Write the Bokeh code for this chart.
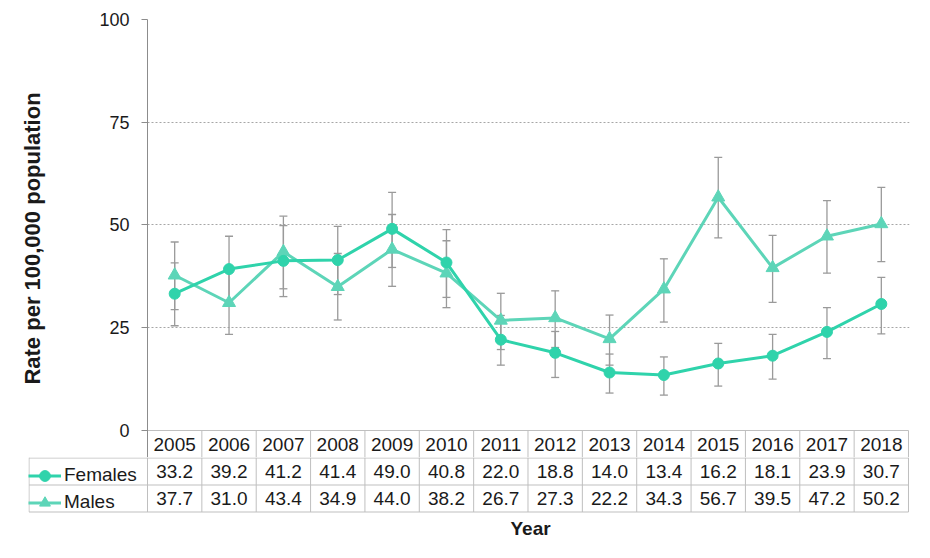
from bokeh.plotting import figure
from bokeh.models import (Range1d, FixedTicker, ColumnDataSource, Whisker, TeeHead,
                          Legend, LegendItem, Title)
from bokeh.core.properties import value
from bokeh.embed import file_html
from bokeh.resources import INLINE

# ---------------- data ----------------
years = ["2005", "2006", "2007", "2008", "2009", "2010", "2011",
         "2012", "2013", "2014", "2015", "2016", "2017", "2018"]
females = [33.2, 39.2, 41.2, 41.4, 49.0, 40.8, 22.0, 18.8, 14.0, 13.4, 16.2, 18.1, 23.9, 30.7]
males = [37.7, 31.0, 43.4, 34.9, 44.0, 38.2, 26.7, 27.3, 22.2, 34.3, 56.7, 39.5, 47.2, 50.2]
females_lower = [25.4, 31.6, 32.5, 33.0, 39.6, 32.3, 15.8, 12.8, 9.0, 8.5, 10.7, 12.4, 17.4, 23.4]
females_upper = [40.7, 47.2, 49.8, 49.6, 57.9, 48.8, 27.9, 24.0, 18.5, 17.8, 21.1, 23.3, 29.8, 37.2]
males_lower = [29.3, 23.3, 34.4, 26.8, 35.0, 29.8, 19.6, 20.1, 15.8, 26.3, 46.8, 31.1, 38.2, 41.0]
males_upper = [45.8, 39.3, 52.1, 43.0, 52.5, 46.1, 33.3, 33.9, 28.0, 41.7, 66.4, 47.4, 55.9, 59.1]
y_ticks = [0, 25, 50, 75, 100]
series_names = ["Females", "Males"]
y_title = "Rate per 100,000 population"
x_title = "Year"

# ---------------- style / layout ----------------
FONT = "Liberation Sans"
FEMALE = "#2fd3ab"
MALE = "#5dd5b8"
ERR = "#9a9a9a"
TABLE_LINE = "#bfbfbf"
TEXT = "#1a1a1a"

W = 925
COL_PX = 54.357            # pixel width of one year column
LEFT = 147                 # x of y axis
RIGHT_BORDER = 16
TOP = 19                   # y of value 100
ZERO = 429.5               # y of value 0
HEAD_TOP, HEAD_BOT = 430, 457
ROW_H = 27
TBL_TOP = HEAD_BOT + 0.5
TBL_BOT = TBL_TOP + 2 * ROW_H
FRAME2_BOT = 513
TBL_LEFT = 28

n = len(years)
xs = list(range(n))
frame_w = W - LEFT - RIGHT_BORDER
x_end = -0.5 + frame_w / COL_PX
px_per_unit = (ZERO - TOP) / 100.0
vx = [k + 0.5 for k in range(n)]

# ================= chart (with header row) =================
p = figure(width=W, height=HEAD_BOT, output_backend="svg", toolbar_location=None,
           x_range=Range1d(-0.5, x_end),
           y_range=Range1d(-(HEAD_BOT - ZERO) / px_per_unit, 100),
           x_axis_location=None,
           min_border_left=LEFT, min_border_right=RIGHT_BORDER,
           min_border_top=TOP, min_border_bottom=0)
p.outline_line_color = None
p.extra_y_ranges = {"tbl": Range1d(start=HEAD_BOT, end=TOP)}

p.xgrid.visible = False
p.ygrid.ticker = FixedTicker(ticks=y_ticks[1:])
p.ygrid.grid_line_color = "#a6a6a6"
p.ygrid.grid_line_dash = "2 2"

p.yaxis.ticker = FixedTicker(ticks=y_ticks)
p.yaxis.axis_line_color = "#8c8c8c"
p.yaxis.major_tick_line_color = "#8c8c8c"
p.yaxis.major_tick_out = 6
p.yaxis.major_tick_in = 0
p.yaxis.minor_tick_line_color = None
p.yaxis.major_label_text_font = FONT
p.yaxis.major_label_text_font_size = "18px"
p.yaxis.major_label_text_color = TEXT
p.yaxis.major_label_standoff = 12
p.yaxis.axis_label = y_title
p.yaxis.axis_label_text_font = FONT
p.yaxis.axis_label_text_font_size = "22px"
p.yaxis.axis_label_text_font_style = "bold"
p.yaxis.axis_label_text_color = TEXT
p.yaxis.axis_label_standoff = 51

fsrc = ColumnDataSource(dict(x=xs, lower=females_lower, upper=females_upper))
msrc = ColumnDataSource(dict(x=xs, lower=males_lower, upper=males_upper))
for src in (msrc, fsrc):
    p.add_layout(Whisker(source=src, base="x", lower="lower", upper="upper",
                         dimension="height", line_color=ERR, line_width=1.3,
                         level="underlay",
                         upper_head=TeeHead(size=8, line_color=ERR, line_width=1.3),
                         lower_head=TeeHead(size=8, line_color=ERR, line_width=1.3)))

p.line(xs, males, line_color=MALE, line_width=3)
p.scatter(xs, males, marker="triangle", size=13, fill_color=MALE, line_color=MALE)
p.line(xs, females, line_color=FEMALE, line_width=3)
p.scatter(xs, females, marker="circle", size=11, fill_color=FEMALE, line_color=FEMALE)

# header row of the data table
p.segment(x0=[-0.5], x1=[n - 0.5], y0=[HEAD_TOP], y1=[HEAD_TOP], y_range_name="tbl",
          line_color=TABLE_LINE)
p.segment(x0=vx, x1=vx, y0=[HEAD_TOP] * n, y1=[HEAD_BOT] * n, y_range_name="tbl",
          line_color=TABLE_LINE)
p.text(x=xs, y=[(HEAD_TOP + HEAD_BOT) / 2] * n, text=years, y_range_name="tbl",
       text_align="center", text_baseline="middle",
       text_font=value(FONT), text_font_size="19px", text_color=TEXT)

# ================= data rows (separate root, own frame from the table's left edge) =================
x_start2 = -0.5 - (LEFT - TBL_LEFT) / COL_PX
q = figure(width=W, height=FRAME2_BOT - HEAD_BOT + 30, output_backend="svg",
           toolbar_location=None,
           x_range=Range1d(x_start2, x_end),
           y_range=Range1d(start=FRAME2_BOT, end=HEAD_BOT),
           x_axis_location=None, y_axis_location=None,
           min_border_left=TBL_LEFT, min_border_right=RIGHT_BORDER,
           min_border_top=0, min_border_bottom=30)
q.outline_line_color = None
q.grid.visible = False

edge_l = x_start2 + 0.5 / COL_PX
hy = [TBL_TOP, TBL_TOP + ROW_H, TBL_BOT]
q.segment(x0=[edge_l] * 3, x1=[n - 0.5] * 3, y0=hy, y1=hy, line_color=TABLE_LINE)
vx2 = [edge_l] + [k - 0.5 for k in range(n + 1)]
q.segment(x0=vx2, x1=vx2, y0=[HEAD_BOT] * len(vx2), y1=[TBL_BOT] * len(vx2),
          line_color=TABLE_LINE)

for k, vals in enumerate((females, males)):
    q.text(x=xs, y=[TBL_TOP + ROW_H * (k + 0.5)] * n, text=[f"{v:.1f}" for v in vals],
           text_align="center", text_baseline="middle",
           text_font=value(FONT), text_font_size="19px", text_color=TEXT)

# legend keys (renderers hidden, only their legend glyphs are shown)
fl = q.line(xs, females, line_color=FEMALE, line_width=3, visible=False)
fp = q.scatter(xs, females, marker="circle", size=11, fill_color=FEMALE,
               line_color=FEMALE, visible=False)
ml = q.line(xs, males, line_color=MALE, line_width=3, visible=False)
mp = q.scatter(xs, males, marker="triangle", size=13, fill_color=MALE,
               line_color=MALE, visible=False)
PAD = 4
leg_h = 2 * PAD + 2 * ROW_H
leg = Legend(items=[LegendItem(label=series_names[0], renderers=[fl, fp]),
                    LegendItem(label=series_names[1], renderers=[ml, mp])],
             location=(0, FRAME2_BOT - (TBL_TOP - PAD) - leg_h),
             orientation="vertical", padding=PAD, margin=0,
             spacing=0, glyph_width=33, glyph_height=ROW_H, label_height=ROW_H,
             label_standoff=3, label_text_font=FONT, label_text_font_size="19px",
             label_text_color=TEXT, label_text_baseline="middle",
             border_line_color=None, background_fill_alpha=0)
q.add_layout(leg, "center")

q.add_layout(Title(text=x_title, align="left", offset=510 - TBL_LEFT, standoff=4,
                   text_font=FONT, text_font_size="19px", text_font_style="bold",
                   text_color=TEXT), "below")

open("out.html", "w").write(file_html([p, q], INLINE))
